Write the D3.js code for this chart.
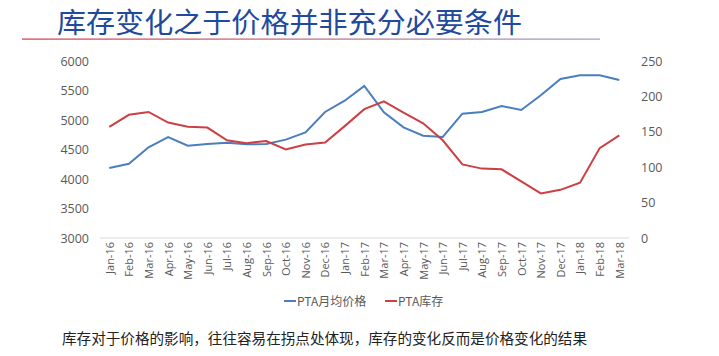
<!DOCTYPE html>
<html><head><meta charset="utf-8">
<script src="https://cdn.jsdelivr.net/npm/d3@7"></script>
<style>
html,body{margin:0;padding:0;background:#fff;}
svg{display:block;font-family:"Noto Sans CJK SC","Noto Sans",sans-serif;}
</style></head>
<body>
<script>
const months = ["Jan-16","Feb-16","Mar-16","Apr-16","May-16","Jun-16","Jul-16","Aug-16","Sep-16","Oct-16","Nov-16","Dec-16","Jan-17","Feb-17","Mar-17","Apr-17","May-17","Jun-17","Jul-17","Aug-17","Sep-17","Oct-17","Nov-17","Dec-17","Jan-18","Feb-18","Mar-18"];
const ptaPrice = [4186,4259,4537,4712,4565,4593,4616,4587,4593,4667,4791,5136,5327,5576,5130,4876,4734,4712,5107,5136,5237,5169,5418,5695,5757,5757,5678];
const ptaStock = [157,174,178,163,157,156,138,134,137,125,132,135,158,182,193,177,162,138,104,98,97,80,63,68,78,127,145];
const leftTicks = [3000,3500,4000,4500,5000,5500,6000];
const rightTicks = [0,50,100,150,200,250];
const seriesNames = ["PTA月均价格","PTA库存"];
const colors = ["#4a7ebf","#cc3f43"];

const W = 719, H = 356;
const svg = d3.select("body").append("svg").attr("width", W).attr("height", H);

// title
const defs = svg.append("defs");
const grad = defs.append("linearGradient").attr("id","ul").attr("x1","0").attr("x2","1");
grad.append("stop").attr("offset","0").attr("stop-color","#d9363e");
grad.append("stop").attr("offset","1").attr("stop-color","#9a9ac8");
svg.append("text").attr("x",57).attr("y",33).attr("font-size",28).attr("fill","#1f4a9e")
  .attr("textLength",465).attr("lengthAdjust","spacingAndGlyphs")
  .text("库存变化之于价格并非充分必要条件");
svg.append("rect").attr("x",22).attr("y",38.5).attr("width",578).attr("height",1.2).attr("fill","url(#ul)");

const x = d3.scalePoint().domain(months).range([109.3, 619.3]);
const yL = d3.scaleLinear().domain([3000,6000]).range([238,61]);
const yR = d3.scaleLinear().domain([0,250]).range([238,61]);

// baseline
svg.append("line").attr("x1",99.5).attr("x2",629).attr("y1",238).attr("y2",238)
  .attr("stroke","#d9d9d9").attr("stroke-width",1);

const axL = svg.append("g").attr("transform","translate(89,0)")
  .call(d3.axisLeft(yL).tickValues(leftTicks).tickSize(0).tickPadding(0).tickFormat(d3.format("d")));
const axR = svg.append("g").attr("transform","translate(641,0)")
  .call(d3.axisRight(yR).tickValues(rightTicks).tickSize(0).tickPadding(0));
[axL,axR].forEach(a=>{a.select(".domain").remove();
  a.selectAll("text").attr("font-size",12.5).attr("fill","#595959").attr("font-family","'Open Sans','Noto Sans',sans-serif");});

const axB = svg.append("g").attr("transform","translate(0,242)")
  .call(d3.axisBottom(x).tickSize(0).tickPadding(0));
axB.select(".domain").remove();
axB.selectAll("text").attr("font-size",11).attr("fill","#595959")
  .attr("font-family","'Open Sans','Noto Sans',sans-serif")
  .attr("text-anchor","end").attr("dy","0.35em").attr("dx",0)
  .attr("x",0).attr("y",0).attr("transform","rotate(-90)");

const lineL = d3.line().x((d,i)=>x(months[i])).y(d=>yL(d));
const lineR = d3.line().x((d,i)=>x(months[i])).y(d=>yR(d));
svg.append("path").datum(ptaPrice).attr("d",lineL).attr("fill","none").attr("stroke",colors[0]).attr("stroke-width",2);
svg.append("path").datum(ptaStock).attr("d",lineR).attr("fill","none").attr("stroke",colors[1]).attr("stroke-width",2);

// legend
const lg = svg.append("g");
const lx = [284, 385];
seriesNames.forEach((n,i)=>{
  lg.append("line").attr("x1",lx[i]).attr("x2",lx[i]+12).attr("y1",301).attr("y2",301)
    .attr("stroke",colors[i]).attr("stroke-width",2);
  lg.append("text").attr("x",lx[i]+13).attr("y",305.5).attr("font-size",12).attr("fill","#595959").text(n);
});

svg.append("text").attr("x",62).attr("y",344).attr("font-size",14.5).attr("fill","#222")
  .attr("textLength",525).attr("lengthAdjust","spacingAndGlyphs")
  .text("库存对于价格的影响，往往容易在拐点处体现，库存的变化反而是价格变化的结果");
</script>
</body></html>
